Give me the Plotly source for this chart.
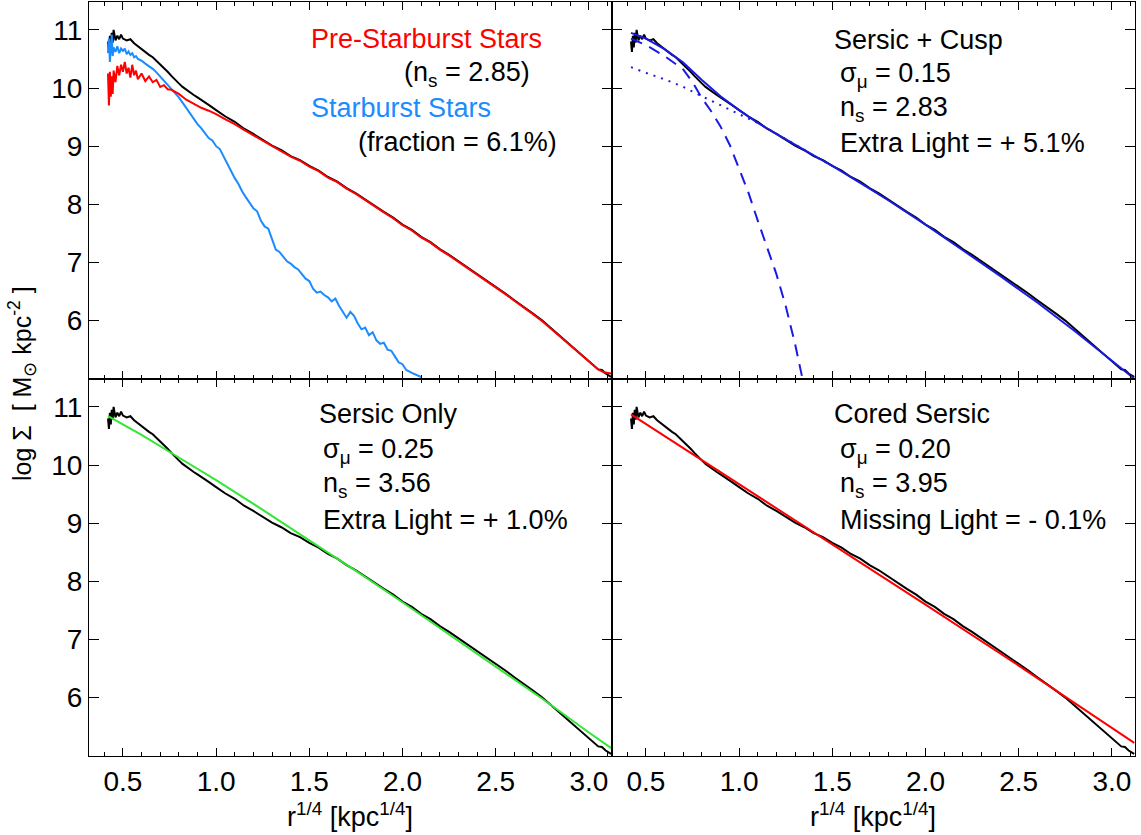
import plotly.graph_objects as go
from plotly.subplots import make_subplots

# ---------------- data ----------------
# total (black) profile, x = r^(1/4) [kpc^(1/4)], y = log Sigma
tot_x = [0.42, 0.425, 0.43, 0.435, 0.44, 0.445, 0.45, 0.46, 0.47, 0.48, 0.49, 0.50, 0.52, 0.54,
         0.56, 0.58, 0.60, 0.62, 0.64, 0.66, 0.68, 0.70, 0.72, 0.74, 0.76, 0.78, 0.80, 0.82,
         0.84, 0.86, 0.88, 0.90, 0.93, 0.96, 1.00, 1.05, 1.10, 1.15, 1.20, 1.25, 1.30, 1.35,
         1.40, 1.45, 1.50, 1.55, 1.60, 1.65, 1.70, 1.75, 1.80, 1.85, 1.90, 1.95, 2.00, 2.05,
         2.10, 2.15, 2.20, 2.25, 2.30, 2.35, 2.40, 2.45, 2.50, 2.55, 2.60, 2.65, 2.70, 2.75,
         2.80, 2.85, 2.90, 2.95, 3.00, 3.03, 3.05, 3.07, 3.09, 3.11, 3.12]
tot_y = [10.80, 10.62, 10.90, 10.70, 10.95, 10.78, 11.00, 10.82, 10.90, 10.84, 10.92, 10.85, 10.82, 10.84,
         10.77, 10.72, 10.66, 10.62, 10.57, 10.53, 10.47, 10.41, 10.35, 10.28, 10.21, 10.14, 10.08, 10.02,
         9.97, 9.92, 9.88, 9.84, 9.78, 9.71, 9.62, 9.51, 9.42, 9.30, 9.21, 9.11, 9.01, 8.93,
         8.83, 8.76, 8.66, 8.58, 8.47, 8.39, 8.28, 8.19, 8.08, 7.97, 7.87, 7.77, 7.65, 7.56,
         7.44, 7.35, 7.23, 7.13, 7.02, 6.92, 6.80, 6.69, 6.58, 6.47, 6.35, 6.24, 6.12, 6.00,
         5.86, 5.73, 5.58, 5.45, 5.31, 5.22, 5.16, 5.15, 5.09, 5.05, 5.03]

# pre-starburst stars (red, top-left)
pre_x = [0.42, 0.425, 0.43, 0.435, 0.44, 0.445, 0.45, 0.46, 0.47, 0.48, 0.49, 0.50, 0.51, 0.52,
         0.53, 0.54, 0.55, 0.56, 0.57, 0.58, 0.60, 0.62, 0.64, 0.66, 0.68, 0.70, 0.72, 0.74,
         0.76, 0.80, 0.84, 0.88, 0.92, 0.96, 1.00, 1.05, 1.10, 1.15, 1.20, 1.25, 1.30, 1.35,
         1.40, 1.45, 1.50, 1.55, 1.60, 1.65, 1.70, 1.75, 1.80, 1.85, 1.90, 1.95, 2.00, 2.05,
         2.10, 2.15, 2.20, 2.25, 2.30, 2.35, 2.40, 2.45, 2.50, 2.55, 2.60, 2.65, 2.70, 2.75,
         2.80, 2.85, 2.90, 2.95, 3.00, 3.05, 3.08, 3.12]
pre_y = [10.25, 9.70, 10.28, 9.85, 10.20, 9.90, 10.30, 10.10, 10.38, 10.22, 10.40, 10.28, 10.45, 10.25,
         10.35, 10.18, 10.40, 10.22, 10.30, 10.15, 10.25, 10.12, 10.20, 10.10, 10.14, 10.02, 10.05, 9.98,
         9.97, 9.90, 9.80, 9.73, 9.66, 9.61, 9.55, 9.46, 9.38, 9.28, 9.19, 9.10, 9.00, 8.92,
         8.82, 8.75, 8.65, 8.57, 8.46, 8.38, 8.27, 8.18, 8.07, 7.96, 7.86, 7.76, 7.64, 7.55,
         7.43, 7.34, 7.22, 7.12, 7.01, 6.91, 6.79, 6.68, 6.57, 6.46, 6.34, 6.23, 6.11, 5.99,
         5.85, 5.72, 5.57, 5.44, 5.30, 5.16, 5.11, 5.09]

# starburst stars (light blue, top-left)
sb_x = [0.42, 0.425, 0.43, 0.435, 0.44, 0.445, 0.45, 0.46, 0.47, 0.48, 0.49, 0.50, 0.51, 0.52,
        0.53, 0.54, 0.55, 0.56, 0.57, 0.58, 0.60, 0.62, 0.64, 0.66, 0.68, 0.70, 0.72, 0.74,
        0.76, 0.78, 0.80, 0.82, 0.84, 0.86, 0.88, 0.90, 0.92, 0.94, 0.96, 0.98, 1.00, 1.02,
        1.04, 1.06, 1.08, 1.10, 1.12, 1.14, 1.16, 1.18, 1.20, 1.22, 1.24, 1.26, 1.28, 1.30,
        1.32, 1.34, 1.36, 1.38, 1.40, 1.42, 1.44, 1.46, 1.48, 1.50, 1.52, 1.54, 1.56, 1.58,
        1.60, 1.62, 1.64, 1.66, 1.68, 1.70, 1.72, 1.74, 1.76, 1.78, 1.80, 1.82, 1.84, 1.86,
        1.88, 1.90, 1.92, 1.94, 1.96, 1.98, 2.00, 2.02, 2.05, 2.08, 2.10]
sb_y = [10.60, 10.85, 10.45, 10.75, 10.92, 10.55, 10.70, 10.62, 10.72, 10.60, 10.68, 10.64, 10.68, 10.58,
        10.63, 10.57, 10.60, 10.53, 10.55, 10.50, 10.47, 10.42, 10.38, 10.33, 10.27, 10.20, 10.12, 10.05,
        9.98, 9.92, 9.84, 9.75, 9.66, 9.55, 9.47, 9.38, 9.31, 9.22, 9.14, 9.10, 9.00, 8.95,
        8.82, 8.70, 8.58, 8.45, 8.35, 8.22, 8.12, 8.02, 7.93, 7.88, 7.72, 7.62, 7.58, 7.40,
        7.22, 7.18, 7.10, 7.02, 6.98, 6.92, 6.88, 6.80, 6.72, 6.68, 6.55, 6.48, 6.50, 6.44,
        6.40, 6.33, 6.38, 6.25, 6.15, 6.05, 6.15, 6.08, 5.95, 5.85, 5.88, 5.75, 5.80, 5.66,
        5.60, 5.62, 5.50, 5.48, 5.38, 5.28, 5.25, 5.15, 5.10, 5.05, 5.03]

# Sersic + Cusp fit (top-right)
fit_x = [0.42, 0.50, 0.60, 0.70, 0.80, 0.90, 1.00, 1.10, 1.20, 1.30, 1.40, 1.50, 1.60, 1.70,
         1.80, 1.90, 2.00, 2.20, 2.40, 2.60, 2.80, 3.00, 3.12]
fit_y = [10.95, 10.85, 10.67, 10.44, 10.14, 9.86, 9.62, 9.40, 9.21, 9.02, 8.84, 8.66, 8.47, 8.27,
         8.07, 7.86, 7.65, 7.21, 6.77, 6.31, 5.82, 5.31, 5.00]
cusp_x = [0.42, 0.50, 0.60, 0.70, 0.75, 0.80, 0.85, 0.90, 0.95, 1.00, 1.05, 1.10, 1.15, 1.20,
          1.25, 1.30, 1.34]
cusp_y = [10.85, 10.74, 10.55, 10.32, 10.10, 9.83, 9.60, 9.34, 9.02, 8.60, 8.20, 7.72, 7.27, 6.80,
          6.25, 5.60, 5.00]
sers_x = [0.42, 0.50, 0.60, 0.70, 0.80, 0.90, 1.00, 1.10, 1.20, 1.30, 1.40, 1.50]
sers_y = [10.36, 10.26, 10.15, 10.02, 9.86, 9.70, 9.55, 9.40, 9.22, 9.03, 8.84, 8.66]

# Sersic only fit (bottom-left, green)
so_x = [0.42, 0.60, 0.80, 1.00, 1.25, 1.50, 1.75, 2.00, 2.25, 2.50, 2.75, 3.00, 3.12]
so_y = [10.84, 10.52, 10.13, 9.74, 9.23, 8.71, 8.18, 7.64, 7.09, 6.54, 5.98, 5.40, 5.13]

# Cored Sersic fit (bottom-right, red)
cs_x = [0.42, 1.00, 1.50, 2.00, 2.50, 3.00, 3.12]
cs_y = [10.87, 9.67, 8.63, 7.60, 6.55, 5.48, 5.22]

x_ticks = [0.5, 1.0, 1.5, 2.0, 2.5, 3.0]
y_ticks = [6, 7, 8, 9, 10, 11]

# ---------------- figure ----------------
W, H = 1141, 835
ML, MR, MT, MB = 89, 6, 2, 79
FONT = "Liberation Sans, Arial, Helvetica, sans-serif"

fig = make_subplots(rows=2, cols=2, horizontal_spacing=0, vertical_spacing=0)

BLACK = "black"
RED = "#ff0000"
LBLUE = "#1a8cff"
DBLUE = "#1a1ae6"
GREEN = "#33e633"
LW = 2

def add(x, y, color, r, c, dash="solid", width=LW):
    fig.add_trace(go.Scatter(x=x, y=y, mode="lines",
                             line=dict(color=color, width=width, dash=dash),
                             showlegend=False, hoverinfo="skip"), row=r, col=c)

# top-left
add(tot_x, tot_y, BLACK, 1, 1)
add(sb_x, sb_y, LBLUE, 1, 1)
add(pre_x, pre_y, RED, 1, 1)
# top-right
add(tot_x, tot_y, BLACK, 1, 2)
add(cusp_x, cusp_y, DBLUE, 1, 2, dash="12px,8px")
add(sers_x, sers_y, DBLUE, 1, 2, dash="2px,6px")
add(fit_x, fit_y, DBLUE, 1, 2)
# bottom-left
add(tot_x, tot_y, BLACK, 2, 1)
add(so_x, so_y, GREEN, 2, 1)
# bottom-right
add(tot_x, tot_y, BLACK, 2, 2)
add(cs_x, cs_y, RED, 2, 2)

XR = [0.318, 3.124]
YR = [4.995, 11.48]

for r in (1, 2):
    for c in (1, 2):
        fig.update_xaxes(range=XR, tickvals=x_ticks, tickformat=".1f",
                         ticks="inside", ticklen=8, tickwidth=1, tickcolor="black",
                         minor=dict(dtick=0.1, ticks="inside", ticklen=4, tickcolor="black", tickwidth=1),
                         showline=True, linecolor="black", linewidth=1.2, mirror="ticks",
                         showgrid=False, zeroline=False,
                         showticklabels=(r == 2),
                         tickfont=dict(family=FONT, size=28, color="black"),
                         row=r, col=c)
        fig.update_yaxes(range=YR, tickvals=y_ticks,
                         ticks="inside", ticklen=10, tickwidth=1, tickcolor="black",
                         showline=True, linecolor="black", linewidth=1.2, mirror="ticks",
                         showgrid=False, zeroline=False,
                         showticklabels=(c == 1),
                         tickfont=dict(family=FONT, size=28, color="black"),
                         row=r, col=c)

PW = W - ML - MR
PH = H - MT - MB

def px(xp):
    return (xp - ML) / PW

def py(yp):
    return (H - MB - yp) / PH

ann = []

def text(x, y, s, color="black", size=27):
    ann.append(dict(x=px(x), y=py(y), xref="paper", yref="paper", text=s,
                    showarrow=False, xanchor="left", yanchor="middle",
                    font=dict(family=FONT, size=size, color=color)))

# top-left
text(309, 39, "Pre-Starburst Stars", RED)
text(402, 74, "(n<sub>s</sub> = 2.85)")
text(309, 108, "Starburst Stars", LBLUE)
text(356, 142, "(fraction = 6.1%)")
# top-right
text(832, 40, "Sersic + Cusp")
text(838, 75, "σ<sub>μ</sub> = 0.15")
text(838, 109, "n<sub>s</sub> = 2.83")
text(838, 143, "Extra Light = + 5.1%")
# bottom-left
text(317, 414, "Sersic Only")
text(321, 451, "σ<sub>μ</sub> = 0.25")
text(321, 485, "n<sub>s</sub> = 3.56")
text(321, 520, "Extra Light = + 1.0%")
# bottom-right
text(832, 414, "Cored Sersic")
text(838, 451, "σ<sub>μ</sub> = 0.20")
text(838, 485, "n<sub>s</sub> = 3.95")
text(838, 520, "Missing Light = - 0.1%")

# axis titles
for cx in (350, 873):
    ann.append(dict(x=px(cx), y=py(815), xref="paper", yref="paper",
                    text="r<sup>1/4</sup> [kpc<sup>1/4</sup>]", showarrow=False,
                    xanchor="center", yanchor="middle",
                    font=dict(family=FONT, size=27, color="black")))
ann.append(dict(x=px(22), y=py(384), xref="paper", yref="paper",
                text="log Σ  [ M<sub>⊙</sub> kpc<sup>-2</sup> ]", showarrow=False,
                textangle=-90, xanchor="center", yanchor="middle",
                font=dict(family=FONT, size=25, color="black")))

fig.update_layout(width=W, height=H, margin=dict(l=ML, r=MR, t=MT, b=MB),
                  plot_bgcolor="white", paper_bgcolor="white",
                  annotations=ann, showlegend=False,
                  font=dict(family=FONT, color="black"))

fig.write_html("out.html", config={"displayModeBar": False},
               post_script="document.body.style.margin='0px';document.body.style.padding='0px';")
